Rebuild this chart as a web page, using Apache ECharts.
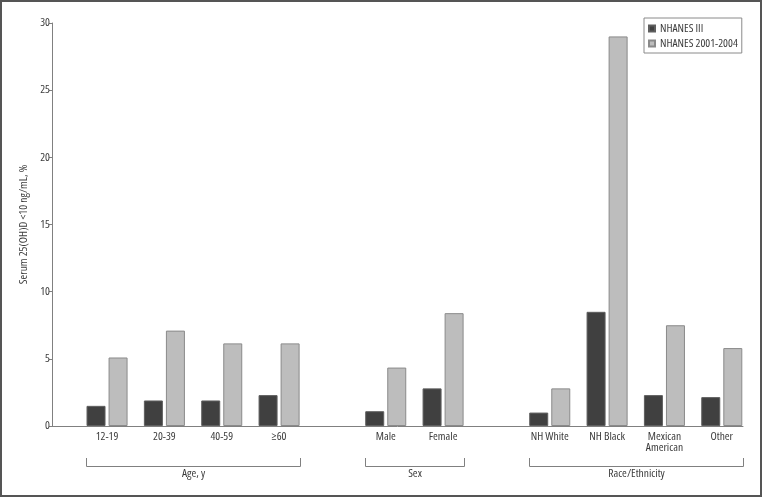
<!DOCTYPE html>
<html>
<head>
<meta charset="utf-8">
<script src="https://cdn.jsdelivr.net/npm/echarts@6/dist/echarts.min.js"></script>
<style>
html,body{margin:0;padding:0;background:#fff;}
#chart{width:762px;height:497px;}
</style>
</head>
<body>
<div id="chart"></div>
<script>
const categories = ['12-19','20-39','40-59','\u226560','Male','Female','NH White','NH Black','Mexican\nAmerican','Other'];
const groupNames = ['Age, y','Sex','Race/Ethnicity'];
const groupSizes = [4,2,4];
const seriesNames = ['NHANES III','NHANES 2001-2004'];
const nhanes3 = [1.5,1.9,1.9,2.3,1.1,2.8,1.0,8.5,2.3,2.15];
const nhanes0104 = [5.1,7.1,6.15,6.15,4.35,8.4,2.8,29.0,7.5,5.8];
const yMin = 0, yMax = 30, yStep = 5;

const FONT = "'Open Sans','Roboto Condensed',sans-serif";
const STRETCH = 'condensed';
const FS = 11.5;
const TXT = '#3c3c3c';
const GROUP_GAP = 0.86;
const BAR_W = 19;
const ts = (size, extra) => Object.assign({fontFamily: FONT, fontStyle: STRETCH, fontSize: size, color: TXT}, extra || {});

const positions = [];
(function(){
  let idx = 0;
  groupSizes.forEach((n, g) => {
    for (let j = 0; j < n; j++) { positions.push(idx + g * GROUP_GAP); idx++; }
  });
})();
const labelMap = {};
positions.forEach((p, i) => { labelMap[p.toFixed(2)] = categories[i]; });

const chart = echarts.init(document.getElementById('chart'), null, {renderer:'canvas'});
const option = {
  animation: false,
  textStyle: {fontFamily: FONT},
  grid: {left: 52, right: 19, top: 23, bottom: 71, containLabel: false},
  legend: {
    orient: 'vertical', left: 644, top: 18,
    padding: [4, 4, 3, 4], itemGap: 2,
    itemWidth: 6, itemHeight: 6,
    borderColor: '#8a8a8a', borderWidth: 1,
    icon: 'rect',
    textStyle: ts(FS, {lineHeight: 13}),
    data: seriesNames
  },
  xAxis: {
    type: 'value', min: -0.96, max: positions[positions.length-1] + 0.37,
    splitLine: {show: false},
    axisLine: {show: true, onZero: false, lineStyle: {color: '#808080', width: 1}},
    axisTick: {show: false},
    axisLabel: Object.assign(ts(FS, {lineHeight: 11}), {
      customValues: positions, margin: 5,
      formatter: v => labelMap[Number(v).toFixed(2)] || ''
    })
  },
  yAxis: {
    type: 'value', min: yMin, max: yMax, interval: yStep,
    name: 'Serum 25(OH)D <10 ng/mL, %', nameLocation: 'middle', nameGap: 22, nameRotate: 90,
    nameTextStyle: ts(FS),
    splitLine: {show: false},
    axisLine: {show: true, onZero: false, lineStyle: {color: '#808080', width: 1}},
    axisTick: {show: true, inside: false, length: 3, lineStyle: {color: '#808080'}},
    axisLabel: Object.assign(ts(FS), {margin: 2})
  },
  series: [
    {
      name: seriesNames[0], type: 'bar', barWidth: BAR_W, barGap: '16%',
      itemStyle: {color: '#404040', borderColor: '#5e5e5e', borderWidth: 1},
      data: positions.map((p, i) => [p, nhanes3[i]])
    },
    {
      name: seriesNames[1], type: 'bar', barWidth: BAR_W, barGap: '16%',
      itemStyle: {color: '#bdbdbd', borderColor: '#8a8a8a', borderWidth: 1},
      data: positions.map((p, i) => [p, nhanes0104[i]])
    }
  ],
  graphic: [
    {type: 'rect', id: 'frame', shape: {x: 1, y: 1, width: 760, height: 495}, style: {fill: 'none', stroke: '#555', lineWidth: 2}, silent: true}
  ]
};
chart.setOption(option);

// group brackets under the axis
const half = BAR_W + 2;
const gEls = [];
let start = 0;
const yBr = 466, yTop = 458;
groupSizes.forEach((n, g) => {
  const x1 = Math.round(chart.convertToPixel({gridIndex: 0}, [positions[start], 0])[0] - half) + 0.5;
  const x2 = Math.round(chart.convertToPixel({gridIndex: 0}, [positions[start + n - 1], 0])[0] + half) + 0.5;
  gEls.push({
    type: 'polyline', silent: true,
    shape: {points: [[x1, yTop], [x1, yBr + 0.5], [x2, yBr + 0.5], [x2, yTop]]},
    style: {fill: 'none', stroke: '#808080', lineWidth: 1}
  });
  gEls.push({
    type: 'text', silent: true, x: (x1 + x2) / 2, y: yBr + 8,
    style: {text: groupNames[g], fill: TXT, font: STRETCH + ' ' + FS + 'px ' + FONT, align: 'center', verticalAlign: 'middle'}
  });
  start += n;
});
chart.setOption({graphic: option.graphic.concat(gEls)});
</script>
</body>
</html>
